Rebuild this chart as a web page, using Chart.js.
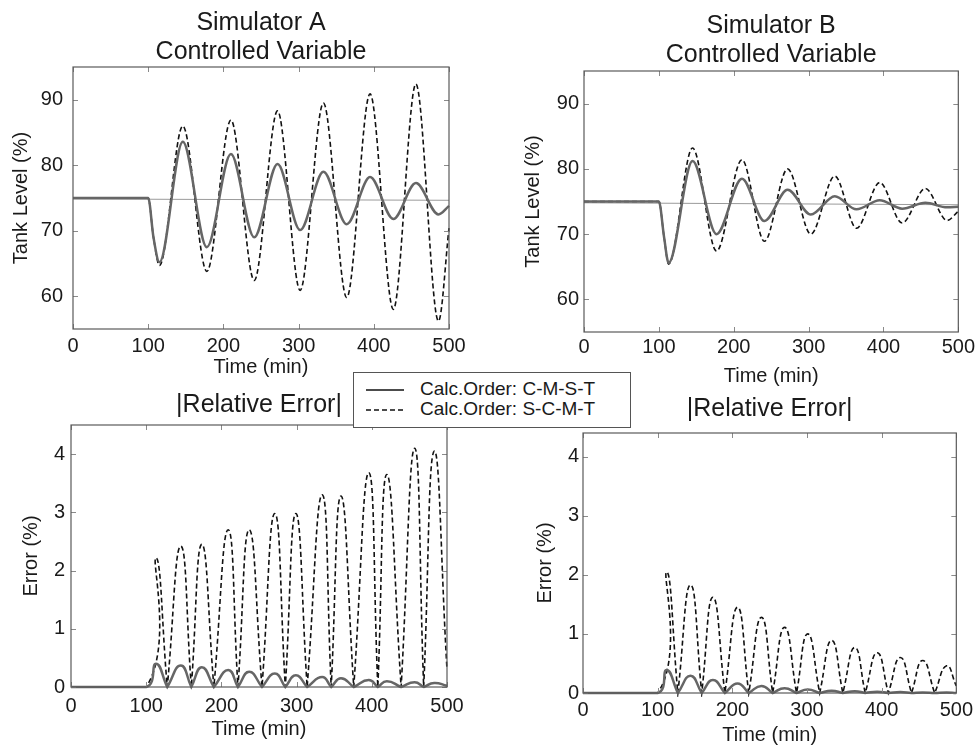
<!DOCTYPE html>
<html lang="en">
<head>
<meta charset="UTF-8">
<title>Simulator A / B - Controlled Variable and |Relative Error|</title>
<script src="https://cdn.jsdelivr.net/npm/chart.js"></script>
<style>
  body { margin: 0; background: #fff; overflow: hidden; }
  canvas { position: absolute; }
  #legend {
    position: absolute; left: 353px; top: 372px; width: 276px; height: 54px;
    border: 1px solid #555; background: #fff;
    font-family: 'Liberation Sans', Arial, sans-serif; font-size: 19px; color: #1a1a1a;
  }
  #legend .row { position: absolute; left: 12px; height: 20px; line-height: 20px; white-space: nowrap; }
  #legend svg { vertical-align: middle; margin-right: 14px; }
</style>
</head>
<body>

<canvas id="chartA" width="489" height="379" style="left:0;top:0"></canvas>
<canvas id="chartB" width="468" height="388" style="left:510px;top:0"></canvas>
<canvas id="chartC" width="489" height="361" style="left:0;top:380px"></canvas>
<canvas id="chartD" width="468" height="367" style="left:510px;top:380px"></canvas>

<div id="legend">
  <div class="row" style="top:6px"><svg width="40" height="6"><line x1="0" y1="3" x2="38" y2="3" stroke="#111" stroke-width="1.6"/></svg>Calc.Order: C-M-S-T</div>
  <div class="row" style="top:26px"><svg width="40" height="6"><line x1="0" y1="3" x2="38" y2="3" stroke="#111" stroke-width="1.6" stroke-dasharray="5,3"/></svg>Calc.Order: S-C-M-T</div>
</div>

<script>
    // ---- Simulator A, tank level (%) ----
    var timeA = [0, 100, 107, 115, 146, 178, 210, 241, 272, 302, 333, 364, 395, 426, 456, 486, 500];
    var levelA_CMST = [75, 75, 69, 65.2, 83.6, 67.5, 81.7, 69.0, 80.2, 70.1, 79.0, 71.0, 78.2, 71.8, 77.3, 72.5, 73.8];
    var levelA_SCMT = [75, 75, 69, 64.7, 86.0, 63.8, 86.9, 62.4, 88.3, 60.9, 89.5, 59.8, 90.9, 58.0, 92.4, 56.2, 70.4];

    // ---- Simulator B, tank level (%) ----
    var timeB = [0, 100, 107, 113, 145, 177, 211, 241, 272, 303, 335, 364, 395, 425, 456, 485, 500];
    var levelB_CMST = [75, 75, 69.5, 65.6, 81.2, 70.0, 78.5, 72.0, 76.8, 73.0, 75.8, 73.8, 75.2, 73.9, 74.8, 74.1, 74.2];
    var levelB_SCMT = [75, 75, 69.5, 65.4, 83.2, 67.4, 81.4, 68.9, 80.0, 70.0, 78.9, 70.9, 77.9, 71.7, 77.0, 72.1, 73.5];

    // thin reference line across the level plots
    var refTime = [0, 500];
    var refLevelA = [74.85, 74.65];
    var refLevelB = [74.8, 74.5];

    // ---- |Relative Error| (%): each hump starts at a zero, peaks, ends at the next zero ----
    var zerosC = [100, 128, 160, 190, 222, 254, 285, 314, 346, 376, 408, 439, 469];
    var peakTimeC = [113, 146, 174, 209, 237, 271, 299, 334, 359, 396, 420, 457, 483];
    var peakC_CMST = [0.40, 0.37, 0.34, 0.29, 0.26, 0.23, 0.20, 0.17, 0.15, 0.12, 0.10, 0.08, 0.07];
    var peakC_SCMT = [2.22, 2.42, 2.45, 2.70, 2.70, 2.98, 2.98, 3.30, 3.28, 3.68, 3.65, 4.10, 4.05];
    var endC_CMST = 0.02, endC_SCMT = 0.3;   // value at t = 500

    var zerosD = [100, 127, 159, 190, 222, 254, 286, 317, 348, 378, 409, 440, 471];
    var peakTimeD = [112, 144, 174, 207, 239, 270, 301, 333, 364, 394, 425, 455, 487];
    var peakD_CMST = [0.39, 0.29, 0.22, 0.16, 0.12, 0.08, 0.06, 0.04, 0.03, 0.02, 0.015, 0.01, 0.01];
    var peakD_SCMT = [2.05, 1.83, 1.62, 1.45, 1.28, 1.11, 1.00, 0.89, 0.77, 0.68, 0.60, 0.55, 0.46];
    var endD_CMST = 0, endD_SCMT = 0.12;

    var timeTicks = [0, 100, 200, 300, 400, 500];
    var levelTicks = [60, 70, 80, 90];
    var errorTicks = [0, 1, 2, 3, 4];

    var FONT = "'Liberation Sans', Arial, sans-serif";
    var TEXT = '#1a1a1a';

    function pts(xs, ys) {
        return xs.map(function (x, i) { return {x: x, y: ys[i]}; });
    }

    // flat zero line, then one hump per zero; neighbouring humps share their zero (cusp)
    function humps(zeros, peakT, peaks, endVal) {
        var out = [{x: 0, y: 0}];
        for (var i = 0; i < zeros.length; i++) {
            var last = i === zeros.length - 1;
            out.push({x: zeros[i], y: 0});
            out.push({x: peakT[i], y: peaks[i]});
            out.push({x: last ? 500 : zeros[i + 1], y: last ? endVal : 0});
        }
        return out;
    }

    // box around the plot with small inward tick marks (matlab look)
    var framePlugin = {
        id: 'frame',
        afterDraw: function (chart) {
            var a = chart.chartArea, c = chart.ctx;
            var xs = chart.scales.x, ys = chart.scales.y;
            c.save();
            c.strokeStyle = '#8a8a8a';
            c.lineWidth = 1;
            xs.ticks.forEach(function (t) {
                var px = Math.round(xs.getPixelForValue(t.value)) + 0.5;
                c.beginPath();
                c.moveTo(px, a.bottom); c.lineTo(px, a.bottom - 5);
                c.moveTo(px, a.top); c.lineTo(px, a.top + 5);
                c.stroke();
            });
            ys.ticks.forEach(function (t) {
                var py = Math.round(ys.getPixelForValue(t.value)) + 0.5;
                c.beginPath();
                c.moveTo(a.left, py); c.lineTo(a.left + 5, py);
                c.moveTo(a.right, py); c.lineTo(a.right - 5, py);
                c.stroke();
            });
            c.strokeStyle = '#5a5a5a';
            c.lineWidth = 1.2;
            c.strokeRect(a.left, a.top, a.right - a.left, a.bottom - a.top);
            c.restore();
        }
    };

    function makeChart(id, s) {
        var mode = s.mono ? 'monotone' : 'default';
        var tension = s.mono ? 0 : 0.5;
        var datasets = [
            {
                label: 'Calc.Order: C-M-S-T',
                data: s.solid,
                borderColor: '#666',
                borderWidth: 2.5,
                pointRadius: 0,
                clip: 4,
                cubicInterpolationMode: mode,
                tension: tension
            },
            {
                label: 'Calc.Order: S-C-M-T',
                data: s.dashed,
                borderColor: '#111',
                borderWidth: 1.6,
                borderDash: [5, 3],
                pointRadius: 0,
                clip: 4,
                cubicInterpolationMode: mode,
                tension: tension
            }
        ];
        if (s.ref) {
            datasets.push({
                label: 'reference',
                data: pts(refTime, s.ref),
                borderColor: '#9a9a9a',
                borderWidth: 1,
                pointRadius: 0
            });
        }

        return new Chart(document.getElementById(id), {
            type: 'line',
            data: { datasets: datasets },
            options: {
                responsive: false,
                animation: false,
                devicePixelRatio: 1,
                layout: { padding: { left: 0, right: s.padRight, top: 0, bottom: 0 } },
                plugins: {
                    legend: { display: false },
                    tooltip: { enabled: false },
                    title: {
                        display: true,
                        text: s.title,
                        fullSize: false,
                        color: TEXT,
                        font: { family: FONT, size: 25, weight: 'normal', lineHeight: 1.16 },
                        padding: { top: s.titleTop, bottom: s.titleBottom }
                    }
                },
                scales: {
                    x: {
                        type: 'linear',
                        min: 0,
                        max: 500,
                        afterBuildTicks: function (ax) { ax.ticks = timeTicks.map(function (v) { return {value: v}; }); },
                        afterFit: function (ax) { ax.height = s.xHeight; },
                        grid: { display: false, drawTicks: false },
                        border: { display: false },
                        ticks: { color: TEXT, font: { family: FONT, size: 20 }, padding: s.xTickPad, maxRotation: 0 },
                        title: { display: true, text: 'Time (min)', color: TEXT, font: { family: FONT, size: 20 }, padding: 0 }
                    },
                    y: {
                        type: 'linear',
                        min: s.yMin,
                        max: s.yMax,
                        afterBuildTicks: function (ax) { ax.ticks = s.yTicks.map(function (v) { return {value: v}; }); },
                        afterFit: function (ax) { ax.width = s.yWidth; },
                        grid: { display: false, drawTicks: false },
                        border: { display: false },
                        ticks: { color: TEXT, font: { family: FONT, size: 20 }, padding: s.yTickPad },
                        title: { display: true, text: s.yTitle, color: TEXT, font: { family: FONT, size: 20 }, padding: { top: s.yTitlePad, bottom: 0 } }
                    }
                }
            },
            plugins: [framePlugin]
        });
    }

    var chartA = makeChart('chartA', {
        solid: pts(timeA, levelA_CMST), dashed: pts(timeA, levelA_SCMT), ref: refLevelA, mono: true,
        title: ['Simulator A', 'Controlled Variable'], titleTop: 9, titleBottom: 0,
        yMin: 55, yMax: 95, yTicks: levelTicks, yTitle: 'Tank Level (%)',
        padRight: 40, yWidth: 73, xHeight: 50, xTickPad: 5, yTickPad: 10, yTitlePad: 9
    });

    var chartB = makeChart('chartB', {
        solid: pts(timeB, levelB_CMST), dashed: pts(timeB, levelB_SCMT), ref: refLevelB, mono: true,
        title: ['Simulator B', 'Controlled Variable'], titleTop: 12, titleBottom: 1,
        yMin: 55, yMax: 95, yTicks: levelTicks, yTitle: 'Tank Level (%)',
        padRight: 19, yWidth: 74, xHeight: 56, xTickPad: 3, yTickPad: 5, yTitlePad: 11
    });

    var chartC = makeChart('chartC', {
        solid: humps(zerosC, peakTimeC, peakC_CMST, endC_CMST),
        dashed: humps(zerosC, peakTimeC, peakC_SCMT, endC_SCMT), mono: false,
        title: '|Relative Error|', titleTop: 11, titleBottom: 5,
        yMin: 0, yMax: 4.5, yTicks: errorTicks, yTitle: 'Error (%)',
        padRight: 42, yWidth: 71, xHeight: 54, xTickPad: 7, yTickPad: 6, yTitlePad: 19
    });

    var chartD = makeChart('chartD', {
        solid: humps(zerosD, peakTimeD, peakD_CMST, endD_CMST),
        dashed: humps(zerosD, peakTimeD, peakD_SCMT, endD_SCMT), mono: false,
        title: '|Relative Error|', titleTop: 15, titleBottom: 9,
        yMin: 0, yMax: 4.4, yTicks: errorTicks, yTitle: 'Error (%)',
        padRight: 21, yWidth: 73, xHeight: 54, xTickPad: 5, yTickPad: 4, yTitlePad: 23
    });
</script>

</body>
</html>
